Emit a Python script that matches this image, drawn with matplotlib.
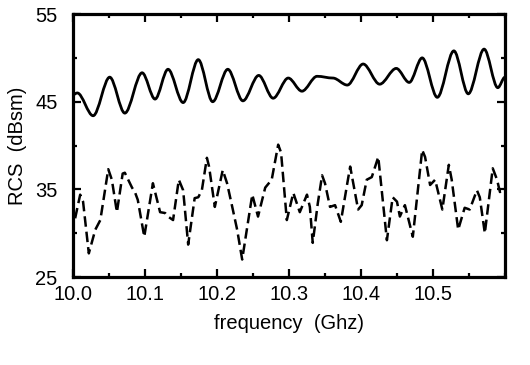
import matplotlib
matplotlib.use("Agg")
import matplotlib.pyplot as plt
from matplotlib.path import Path
from matplotlib.patches import PathPatch
from matplotlib.ticker import MultipleLocator

plt.rcParams['font.family'] = ['Liberation Sans', 'DejaVu Sans']

# solid curve: turning points (GHz, dBsm)
solid_f = [10.000, 10.006, 10.028, 10.051, 10.072, 10.096, 10.114, 10.132,
           10.153, 10.174, 10.194, 10.215, 10.236, 10.258, 10.278, 10.299,
           10.318, 10.339, 10.361, 10.381, 10.403, 10.426, 10.449, 10.467,
           10.485, 10.506, 10.529, 10.549, 10.571, 10.590, 10.600]
solid_rcs = [45.8, 46.0, 43.4, 47.8, 43.7, 48.3, 45.3, 48.7,
             44.9, 49.8, 45.0, 48.7, 45.1, 48.0, 45.4, 47.7,
             46.2, 47.9, 47.7, 46.9, 49.3, 47.0, 48.8, 47.2,
             50.0, 45.5, 50.8, 45.9, 51.0, 46.6, 47.8]

# dashed curve
dash_f = [10.003, 10.010, 10.014, 10.022, 10.031, 10.038, 10.049, 10.054,
          10.061, 10.069, 10.072, 10.082, 10.086, 10.090, 10.099, 10.111,
          10.121, 10.128, 10.132, 10.139, 10.147, 10.153, 10.160, 10.169,
          10.174, 10.179, 10.186, 10.189, 10.197, 10.208, 10.214, 10.222,
          10.228, 10.235, 10.242, 10.249, 10.257, 10.267, 10.276, 10.285,
          10.289, 10.297, 10.306, 10.315, 10.325, 10.329, 10.333, 10.340,
          10.346, 10.350, 10.357, 10.364, 10.372, 10.381, 10.385, 10.396,
          10.401, 10.408, 10.415, 10.424, 10.436, 10.444, 10.450, 10.454,
          10.461, 10.472, 10.485, 10.489, 10.496, 10.503, 10.513, 10.522,
          10.526, 10.535, 10.544, 10.551, 10.561, 10.565, 10.572, 10.583,
          10.589, 10.593, 10.598]
dash_rcs = [31.7, 34.4, 33.6, 27.7, 30.4, 31.5, 37.3, 36.1,
            32.4, 36.8, 36.9, 35.2, 34.7, 33.8, 29.6, 35.7,
            32.4, 32.3, 31.9, 31.5, 36.1, 34.9, 28.7, 34.0,
            34.1, 34.9, 38.6, 37.6, 33.0, 37.2, 35.7, 32.7,
            30.4, 27.0, 30.7, 34.4, 31.9, 35.2, 36.1, 40.1,
            39.2, 31.5, 34.6, 32.4, 34.4, 33.0, 28.9, 33.4,
            36.6, 35.7, 33.0, 33.2, 31.3, 35.7, 37.6, 32.7,
            33.2, 36.1, 36.4, 38.7, 29.2, 34.1, 33.6, 31.9,
            33.2, 29.6, 39.5, 38.7, 35.5, 36.1, 32.7, 37.8,
            36.1, 30.4, 32.9, 32.7, 34.9, 34.1, 30.0, 37.4,
            36.1, 34.7, 34.9]

fig = plt.figure(figsize=(5.3, 3.65), dpi=100)
ax = fig.add_axes([0.1377, 0.241, 0.8151, 0.7205])

# smooth solid line: cubic segments with flat tangents at each turning point
verts = [(solid_f[0], solid_rcs[0])]
codes = [Path.MOVETO]
for i in range(1, len(solid_f)):
    x0, y0 = solid_f[i - 1], solid_rcs[i - 1]
    x1, y1 = solid_f[i], solid_rcs[i]
    dx = (x1 - x0) / 3
    verts += [(x0 + dx, y0), (x1 - dx, y1), (x1, y1)]
    codes += [Path.CURVE4] * 3
ax.add_patch(PathPatch(Path(verts, codes), fill=False, lw=2.0,
                       edgecolor='black', joinstyle='round'))

ax.plot(dash_f, dash_rcs, color='black', lw=1.8, linestyle=(0, (4.2, 2.0)))

ax.set_xlim(10.0, 10.6)
ax.set_ylim(25, 55)
ax.xaxis.set_minor_locator(MultipleLocator(0.05))
ax.yaxis.set_minor_locator(MultipleLocator(5))
ax.set_xticks([10.0, 10.1, 10.2, 10.3, 10.4, 10.5])
ax.set_xticklabels(['10.0', '10.1', '10.2', '10.3', '10.4', '10.5'])
ax.set_yticks([25, 35, 45, 55])

ax.tick_params(which='both', direction='in', top=True, right=True,
               width=1.6, labelsize=14.5, color='black')
ax.tick_params(which='major', length=5.5)
ax.tick_params(which='minor', length=3)
ax.tick_params(axis='x', pad=6)
ax.tick_params(axis='y', pad=11)
for s in ax.spines.values():
    s.set_linewidth(2.3)

ax.set_xlabel('frequency  (Ghz)', fontsize=14.5, labelpad=7)
ax.set_ylabel('RCS  (dBsm)', fontsize=14.5, labelpad=6)

fig.savefig('out.png', dpi=100)
